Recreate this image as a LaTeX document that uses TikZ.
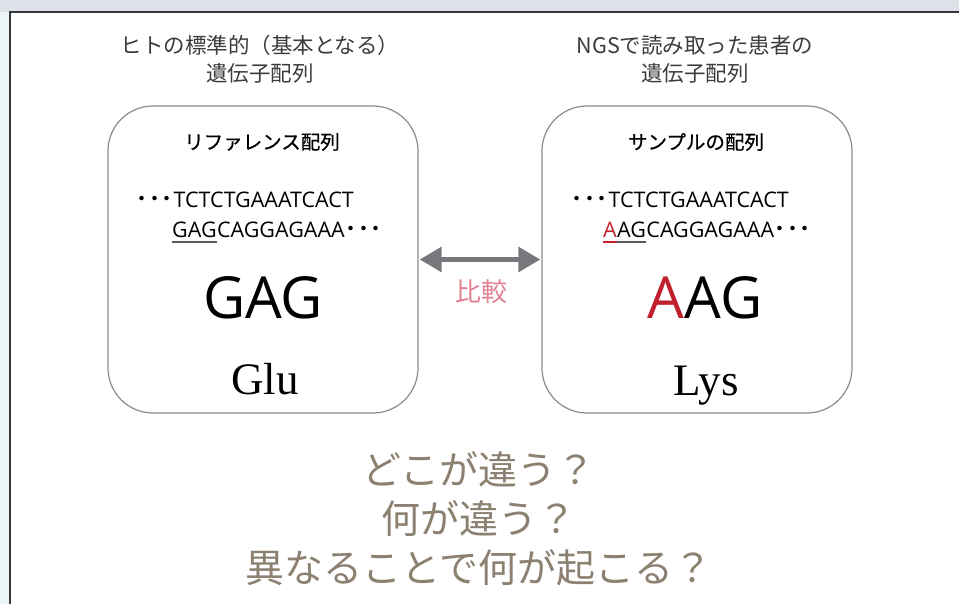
\documentclass[tikz,border=0pt]{standalone}
\usepackage{fontspec}
\setmainfont{Open Sans}
\newfontfamily\cjk{Noto Sans CJK JP}
\newfontfamily\cjkmed[FakeBold=0.6]{Noto Sans CJK JP}
\newfontfamily\serifface{Liberation Serif}
\usetikzlibrary{arrows.meta}
\newcommand\fsz[1]{\fontsize{#1}{#1}\selectfont}
\definecolor{topbg}{RGB}{221,225,232}
\definecolor{leftbg}{RGB}{237,245,249}
\definecolor{framec}{RGB}{55,55,58}
\definecolor{boxc}{RGB}{140,140,140}
\definecolor{headc}{RGB}{60,60,60}
\definecolor{arrowc}{RGB}{120,120,124}
\definecolor{pinkc}{RGB}{226,128,146}
\definecolor{redc}{RGB}{192,32,45}
\definecolor{ulc}{RGB}{90,90,90}
\definecolor{bottomc}{RGB}{140,128,112}
\tikzset{
  boxst/.style={draw=boxc, line width=1.2pt, rounded corners=45pt, minimum width=310pt, minimum height=307pt},
  headst/.style={text=headc, font=\cjk\fontsize{21.5}{28}\selectfont, align=center},
  titlest/.style={text=black, font=\cjkmed\fsz{19.5}},
  seqst/.style={inner sep=0pt, anchor=base west, font=\fsz{21.5}},
  bigst/.style={inner sep=0pt, anchor=base, font=\fsz{58}},
  aminost/.style={inner sep=0pt, anchor=base, font=\serifface\fsz{45}},
  ulst/.style={line width=1.2pt},
}
\newcommand\onedot{\makebox[12.5pt]{\cjk\fsz{21}・}}
\newcommand\dotsjp{\raisebox{1pt}{\onedot\onedot\onedot}}
\begin{document}
\begin{tikzpicture}[x=1pt,y=-1pt]
\useasboundingbox (0,0) rectangle (959,604);
\fill[white] (0,0) rectangle (959,604);
\fill[topbg] (0,0) rectangle (959,12);
\fill[leftbg] (0,12) rectangle (10,604);
\draw[framec, line width=2pt] (10,604) -- (10,12) -- (959,12);

% headings
\node[headst] (hL) at (260,59) {ヒトの標準的（基本となる）\\遺伝子配列};
\node[headst] (hR) at (695,59) {NGSで読み取った患者の\\遺伝子配列};

% boxes
\node[boxst] (L) at (263,259.5) {};
\node[boxst] (R) at (697,259.5) {};

\node[titlest] (tL) at (262,142) {リファレンス配列};
\node[titlest] (tR) at (696,142) {サンプルの配列};

% left sequences
\node[seqst] (sL1) at (136,208) {\dotsjp TCTCTGAAATCACT};
\node[seqst] (gL) at (172,238) {GAG};
\node[seqst] (rL) at (gL.base east) {CAGGAGAAA\dotsjp};
\draw[ulst, ulc] ([yshift=-4pt]gL.base west) -- ([yshift=-4pt]gL.base east);

% right sequences
\node[seqst] (sR1) at (571,208) {\dotsjp TCTCTGAAATCACT};
\node[seqst, text=redc] (aR) at (603,238) {A};
\node[seqst] (agR) at (aR.base east) {AG};
\node[seqst] (rR) at (agR.base east) {CAGGAGAAA\dotsjp};
\draw[ulst, redc] ([yshift=-4pt]aR.base west) -- ([yshift=-4pt]aR.base east);
\draw[ulst, ulc] ([yshift=-4pt]agR.base west) -- ([yshift=-4pt]agR.base east);

% big codons
\node[bigst] (codL) at (263,318) {GAG};
\node[bigst] (codR) at (705,318) {\textcolor{redc}{A}AG};

% amino acids
\node[aminost] (aaL) at (265,394) {Glu};
\node[aminost] (aaR) at (706,395) {Lys};

% comparison arrow
\draw[arrowc, line width=5.5pt, {Triangle[length=22pt,width=24pt]}-{Triangle[length=22pt,width=24pt]}, shorten <=1pt, shorten >=1pt] (L.east) -- (R.west);
\node[text=pinkc, font=\cjk\fsz{26}] (cmp) at (481,292) {比較};

% bottom questions
\node[text=bottomc, font=\cjk\fontsize{39}{49}\selectfont, align=center] (q) at (479,519) {どこが違う？\\何が違う？\\異なることで何が起こる？};
\end{tikzpicture}
\end{document}
